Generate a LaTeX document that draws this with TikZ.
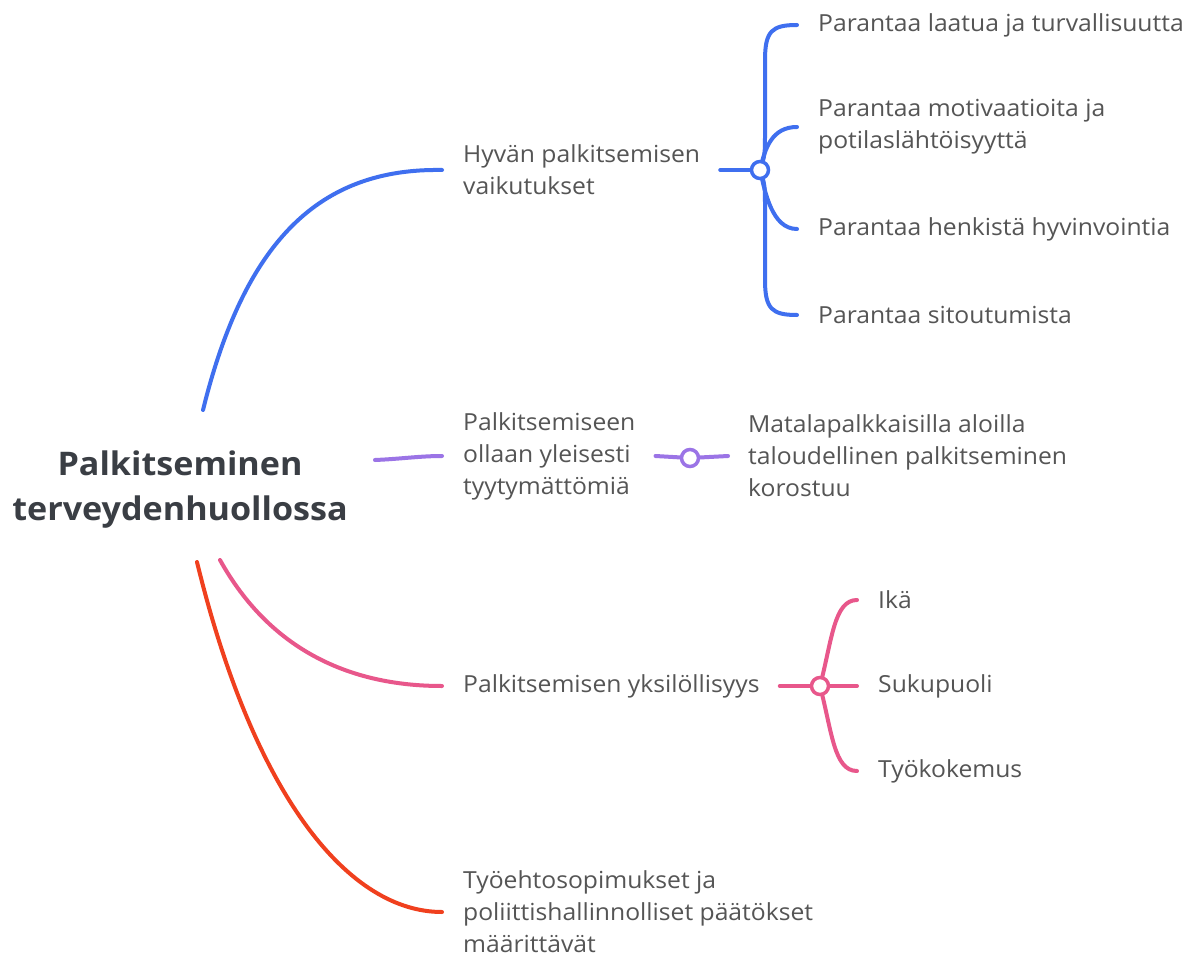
\documentclass[tikz,border=0pt]{standalone}
\usepackage{fontspec}
\setmainfont{Open Sans}[FakeStretch=1.05]
\usetikzlibrary{backgrounds}
\definecolor{cblue}{HTML}{3F6FEF}
\definecolor{cpurp}{HTML}{9B74E6}
\definecolor{cpink}{HTML}{E8578B}
\definecolor{cred}{HTML}{F0401E}
\definecolor{ctext}{HTML}{555555}
\definecolor{ctitle}{HTML}{3A3E44}
\begin{document}
\begin{tikzpicture}[x=1pt,y=-1pt,
 txt/.style={anchor=west,align=left,inner sep=0pt,text=ctext,font=\fontsize{23.5}{32}\selectfont},
 ttl/.style={align=center,inner sep=0pt,text=ctitle,font=\fontsize{32.5}{45}\selectfont\bfseries},
 conn/.style={line width=4pt,line cap=round,line join=round},
 hub/.style={circle,draw=#1,fill=white,line width=3.5pt,minimum size=17pt,inner sep=0pt}]
\useasboundingbox (0,0) rectangle (1199,960);

\node[ttl] (root) at (180,490) {Palkitseminen\\terveydenhuollossa};

\node[txt] (hyv) at (463,170) {Hyvän palkitsemisen\\vaikutukset};
\node[txt] (p1) at (818,25) {Parantaa laatua ja turvallisuutta};
\node[txt] (p2) at (818,127) {Parantaa motivaatioita ja\\potilaslähtöisyyttä};
\node[txt] (p3) at (818,229) {Parantaa henkistä hyvinvointia};
\node[txt] (p4) at (818,315) {Parantaa sitoutumista};
\node[hub=cblue] (h1) at (760,170) {};

\node[txt] (tyy) at (463,456) {Palkitsemiseen\\ollaan yleisesti\\tyytymättömiä};
\node[hub=cpurp] (h2) at (690,458) {};
\node[txt] (mat) at (748,456) {Matalapalkkaisilla aloilla\\taloudellinen palkitseminen\\korostuu};

\node[txt] (yks) at (463,686) {Palkitsemisen yksilöllisyys};
\node[hub=cpink] (h3) at (820,686) {};
\node[txt] (ika) at (878,600) {Ikä};
\node[txt] (suk) at (878,686) {Sukupuoli};
\node[txt] (tyo) at (878,771) {Työkokemus};

\node[txt] (teh) at (463,912) {Työehtosopimukset ja\\poliittishallinnolliset päätökset\\määrittävät};

\coordinate (rb) at (203,410);
\coordinate (rp) at (375,460);
\coordinate (rk) at (220,560);
\coordinate (rr) at (197,562);

\begin{pgfonlayer}{background}
\fill[white] (0,0) rectangle (1199,960);
% main branches
\draw[conn,cblue] (rb) .. controls (245,240) and (320,168) .. ([xshift=-21pt]hyv.west);
\draw[conn,cpurp] (rp) .. controls (400,459) and (420,456) .. ([xshift=-21pt]tyy.west);
\draw[conn,cpink] (rk) .. controls (270,650) and (350,686) .. ([xshift=-21pt]yks.west);
\draw[conn,cred] (rr) .. controls (255,800) and (350,912) .. ([xshift=-21pt]teh.west);
% blue sub-branches
\draw[conn,cblue] ([xshift=20pt]hyv.east) -- (h1.center);
\draw[conn,cblue] (h1.center) .. controls (765,155) .. (765,130) -- (765,60) .. controls (765,31) and (772,25) .. ([xshift=-21pt]p1.west);
\draw[conn,cblue] (h1.center) .. controls (765,148) and (772,127) .. ([xshift=-21pt]p2.west);
\draw[conn,cblue] (h1.center) .. controls (765,192) and (772,229) .. ([xshift=-21pt]p3.west);
\draw[conn,cblue] (h1.center) .. controls (765,185) .. (765,210) -- (765,280) .. controls (765,309) and (772,315) .. ([xshift=-21pt]p4.west);
% purple
\draw[conn,cpurp] ([xshift=20pt]tyy.east) -- (h2.center) -- ([xshift=-20pt]mat.west);
% pink
\draw[conn,cpink] ([xshift=20pt]yks.east) -- (h3.center);
\draw[conn,cpink] (h3.center) .. controls (832,640) and (834,600) .. ([xshift=-21pt]ika.west);
\draw[conn,cpink] (h3.center) -- ([xshift=-21pt]suk.west);
\draw[conn,cpink] (h3.center) .. controls (832,732) and (834,771) .. ([xshift=-21pt]tyo.west);
\end{pgfonlayer}
\end{tikzpicture}
\end{document}
